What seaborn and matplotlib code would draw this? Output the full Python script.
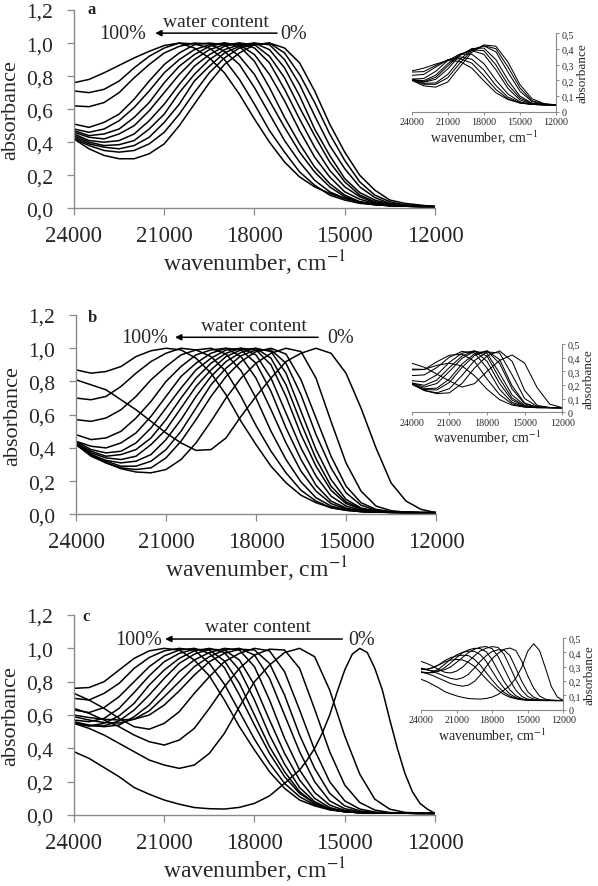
import numpy as np
import pandas as pd
import matplotlib
matplotlib.use("Agg")
import matplotlib.pyplot as plt
import seaborn as sns
from matplotlib.ticker import FuncFormatter

# Wavenumber grids (cm-1)
wn = [24000, 23500, 23000, 22500, 22000, 21500, 21000, 20500, 20000, 19500, 19000, 18500,
      18000, 17500, 17000, 16500, 16000, 15500, 15000, 14500, 14000, 13500, 13000, 12500, 12000]
wn_coarse = [24000, 23000, 22000, 21000, 20000, 19000, 18000, 17000, 16000, 15000, 14000, 13000, 12000]

# Panel a, normalised spectra (0 % -> 100 % water)
a_main = [
    [.42, .36, .32, .30, .30, .33, .39, .50, .63, .76, .87, .94, .99, 1.0, .97, .88, .71, .51, .34, .20, .11, .05, .03, .02, .01],
    [.42, .38, .35, .34, .35, .39, .46, .57, .70, .82, .91, .97, .99, 1.0, .94, .81, .64, .45, .29, .16, .08, .04, .02, .015, .01],
    [.43, .39, .37, .36, .38, .43, .52, .63, .77, .86, .94, .98, 1.0, .99, .90, .75, .56, .38, .24, .13, .065, .03, .02, .013, .01],
    [.44, .40, .38, .385, .41, .48, .57, .70, .81, .90, .96, .99, 1.0, .96, .85, .68, .48, .32, .18, .095, .05, .026, .016, .012, .01],
    [.45, .41, .40, .41, .45, .53, .63, .75, .86, .93, .98, 1.0, .99, .92, .79, .61, .44, .28, .16, .08, .04, .023, .015, .012, .01],
    [.46, .43, .42, .45, .50, .59, .70, .81, .90, .96, .99, 1.0, .97, .88, .72, .54, .37, .23, .13, .07, .035, .02, .014, .012, .01],
    [.47, .44, .45, .48, .55, .64, .76, .86, .93, .98, 1.0, .99, .93, .81, .65, .47, .31, .19, .10, .055, .03, .018, .013, .011, .01],
    [.48, .46, .48, .53, .61, .71, .82, .90, .96, .99, 1.0, .98, .89, .73, .55, .39, .25, .15, .08, .04, .025, .016, .013, .011, .01],
    [.51, .49, .52, .57, .66, .77, .87, .94, .99, 1.0, .99, .92, .81, .65, .49, .34, .22, .13, .07, .037, .022, .016, .013, .011, .01],
    [.62, .615, .64, .70, .79, .87, .94, .98, 1.0, .995, .95, .87, .73, .57, .41, .28, .17, .10, .06, .035, .022, .016, .013, .011, .01],
    [.71, .70, .72, .77, .85, .92, .97, 1.0, .995, .97, .90, .78, .63, .47, .34, .22, .14, .08, .05, .03, .022, .016, .013, .011, .01],
    [.76, .78, .82, .865, .91, .95, .985, 1.0, .97, .91, .82, .69, .54, .40, .28, .19, .13, .09, .06, .04, .025, .017, .013, .01, .01],
]
a_inset = [
    [.20, .165, .157, .19, .286, .379, .426, .418, .317, .173, .083, .052, .044],
    [.202, .175, .175, .217, .31, .39, .421, .402, .286, .152, .071, .048, .044],
    [.203, .181, .184, .238, .333, .397, .42, .382, .253, .131, .065, .048, .044],
    [.207, .188, .207, .273, .358, .403, .406, .332, .203, .099, .055, .046, .044],
    [.206, .191, .22, .292, .364, .396, .389, .299, .173, .087, .053, .045, .044],
    [.205, .198, .233, .306, .366, .39, .366, .268, .149, .075, .051, .045, .044],
    [.208, .212, .258, .327, .367, .367, .307, .202, .113, .063, .047, .044, .043],
    [.232, .238, .285, .331, .35, .335, .266, .167, .093, .059, .047, .044, .043],
    [.253, .256, .295, .331, .339, .31, .229, .142, .082, .055, .047, .044, .043],
    [.26, .278, .304, .326, .321, .278, .197, .121, .078, .057, .047, .044, .043],
]

# Panel b
b_main = [
    [.81, .78, .75, .69, .63, .56, .49, .43, .385, .39, .46, .59, .71, .82, .92, .97, 1.0, .97, .85, .64, .40, .19, .08, .03, .01],
    [.43, .36, .31, .275, .255, .25, .27, .33, .43, .56, .70, .82, .91, .97, 1.0, .98, .82, .56, .31, .14, .05, .022, .013, .01, .01],
    [.42, .35, .31, .28, .27, .28, .34, .44, .57, .71, .83, .92, .98, 1.0, .965, .81, .58, .35, .17, .07, .03, .016, .012, .01, .01],
    [.42, .36, .32, .29, .29, .32, .39, .50, .64, .78, .88, .955, .99, .99, .91, .72, .48, .28, .13, .055, .025, .014, .012, .01, .01],
    [.42, .36, .325, .31, .32, .36, .45, .57, .71, .83, .92, .975, 1.0, .98, .85, .62, .39, .21, .09, .038, .02, .013, .011, .01, .01],
    [.43, .37, .34, .33, .35, .42, .51, .64, .77, .87, .95, .99, 1.0, .94, .78, .55, .335, .17, .075, .034, .018, .012, .011, .01, .01],
    [.43, .38, .35, .36, .39, .46, .57, .70, .82, .91, .97, 1.0, .99, .90, .71, .48, .29, .145, .065, .03, .016, .012, .011, .01, .01],
    [.44, .39, .37, .38, .43, .52, .64, .76, .87, .94, .99, 1.0, .96, .82, .61, .40, .23, .11, .05, .024, .014, .012, .011, .01, .01],
    [.44, .41, .40, .43, .49, .59, .71, .83, .91, .97, 1.0, .99, .91, .74, .52, .33, .175, .08, .038, .02, .014, .012, .011, .01, .01],
    [.48, .45, .46, .50, .58, .68, .80, .89, .96, .99, 1.0, .95, .82, .63, .43, .26, .14, .065, .033, .018, .013, .012, .011, .01, .01],
    [.57, .56, .58, .63, .71, .81, .89, .96, .99, 1.0, .965, .865, .70, .50, .33, .195, .10, .05, .028, .017, .013, .012, .011, .01, .01],
    [.70, .69, .71, .77, .85, .92, .97, 1.0, .99, .95, .86, .71, .535, .38, .25, .145, .08, .04, .025, .016, .013, .012, .011, .01, .01],
    [.87, .85, .86, .89, .95, .985, 1.0, .99, .94, .85, .72, .56, .42, .29, .19, .115, .07, .04, .024, .017, .013, .012, .011, .01, .01],
]
b_inset = [
    [.36, .33, .28, .23, .185, .21, .30, .38, .42, .36, .18, .06, .034],
    [.211, .16, .137, .143, .211, .324, .412, .45, .374, .16, .051, .035, .034],
    [.206, .16, .143, .173, .269, .379, .442, .435, .274, .101, .043, .035, .034],
    [.206, .167, .164, .219, .328, .416, .45, .387, .194, .068, .038, .035, .034],
    [.211, .173, .177, .244, .353, .429, .45, .358, .171, .062, .038, .035, .034],
    [.215, .185, .211, .299, .395, .446, .433, .286, .127, .051, .036, .035, .034],
    [.215, .198, .236, .328, .412, .45, .412, .248, .104, .046, .036, .035, .034],
    [.232, .223, .274, .366, .433, .45, .374, .211, .089, .044, .035, .035, .034],
    [.269, .274, .328, .404, .446, .435, .324, .169, .072, .042, .035, .035, .034],
    [.31, .314, .37, .418, .426, .374, .244, .13, .062, .04, .035, .034, .034],
    [.317, .314, .344, .36, .34, .268, .169, .093, .053, .038, .034, .034, .033],
]

# Panel c: the 0 % spectrum is narrow, so it is read on a finer grid
c0_wn = [24000, 23500, 23000, 22500, 22000, 21500, 21000, 20500, 20000, 19500, 19000, 18500,
         18000, 17500, 17000, 16500, 16250, 16000, 15750, 15500, 15250, 15000, 14750, 14500,
         14250, 14000, 13750, 13500, 13250, 13000, 12750, 12500, 12250, 12000]
c0_main = [.38, .34, .285, .23, .165, .125, .09, .065, .045, .038, .036, .046,
           .07, .115, .19, .27, .33, .40, .49, .60, .74, .87, .965, 1.0,
           .975, .88, .75, .57, .40, .25, .14, .07, .035, .01]
c_main = [
    [.55, .52, .48, .43, .38, .33, .30, .28, .30, .37, .49, .65, .80, .90, .975, 1.0, .95, .75, .475, .245, .095, .035, .016, .012, .01],
    [.64, .61, .57, .53, .48, .44, .42, .45, .52, .64, .77, .88, .96, .995, .99, .88, .635, .38, .18, .075, .03, .015, .012, .011, .01],
    [.73, .69, .64, .58, .53, .515, .55, .62, .73, .83, .92, .97, 1.0, .985, .86, .63, .39, .20, .085, .036, .018, .013, .012, .011, .01],
    [.60, .585, .575, .57, .575, .60, .66, .745, .84, .92, .97, .995, .99, .91, .72, .48, .28, .13, .055, .025, .014, .012, .011, .01, .01],
    [.59, .57, .555, .552, .575, .625, .71, .80, .89, .95, .99, 1.0, .96, .82, .60, .38, .20, .085, .038, .02, .013, .012, .011, .01, .01],
    [.56, .54, .53, .54, .59, .66, .76, .86, .93, .975, 1.0, .99, .89, .69, .46, .27, .135, .06, .028, .016, .013, .012, .011, .01, .01],
    [.55, .535, .535, .565, .63, .72, .82, .91, .965, .995, .99, .93, .78, .57, .37, .21, .10, .045, .022, .014, .012, .012, .011, .01, .01],
    [.55, .535, .55, .595, .67, .78, .87, .94, .985, 1.0, .975, .87, .69, .48, .305, .165, .08, .038, .021, .014, .012, .012, .011, .01, .01],
    [.57, .56, .58, .64, .735, .835, .92, .97, .995, .99, .925, .79, .60, .41, .26, .14, .07, .035, .02, .014, .012, .012, .011, .01, .01],
    [.63, .615, .645, .71, .80, .89, .955, .99, 1.0, .97, .885, .72, .54, .37, .23, .13, .07, .035, .02, .014, .012, .012, .011, .01, .01],
    [.70, .69, .73, .79, .88, .945, .985, 1.0, .99, .91, .785, .62, .455, .31, .19, .11, .06, .033, .02, .014, .012, .012, .011, .01, .01],
    [.76, .765, .80, .87, .94, .985, 1.0, .99, .93, .835, .69, .53, .39, .26, .16, .09, .055, .031, .02, .015, .013, .012, .011, .01, .01],
]
c_inset = [
    [.212, .196, .174, .152, .126, .11, .096, .086, .078, .075, .074, .078, .088, .106, .136, .168, .22, .296, .408, .46, .412, .288, .16, .088, .064],
    [.264, .252, .238, .219, .201, .182, .171, .164, .171, .197, .241, .301, .356, .393, .421, .43, .412, .338, .236, .151, .095, .073, .066, .064, .064],
    [.29, .28, .265, .251, .233, .218, .211, .222, .247, .29, .337, .377, .406, .418, .416, .377, .289, .197, .125, .087, .071, .065, .064, .064, .064],
    [.337, .322, .303, .28, .261, .256, .269, .296, .337, .375, .41, .429, .44, .434, .387, .299, .208, .136, .092, .074, .067, .065, .065, .064, .064],
    [.284, .277, .271, .27, .279, .298, .33, .364, .398, .421, .436, .44, .425, .372, .288, .204, .136, .092, .074, .068, .065, .065, .064, .064, .064],
    [.264, .258, .258, .269, .293, .326, .363, .397, .417, .428, .426, .404, .349, .271, .197, .138, .097, .077, .068, .065, .064, .064, .064, .064, .064],
    [.26, .256, .263, .284, .317, .352, .382, .40, .408, .407, .384, .337, .27, .204, .151, .109, .085, .072, .067, .065, .064, .064, .064, .064, .064],
    [.284, .281, .294, .313, .342, .362, .375, .38, .377, .351, .311, .258, .206, .159, .121, .095, .079, .071, .066, .064, .064, .064, .064, .063, .063],
    [.28, .282, .292, .312, .333, .346, .35, .347, .33, .302, .26, .214, .173, .135, .106, .086, .076, .069, .066, .064, .064, .063, .063, .063, .063],
]

x_ticks = [24000, 21000, 18000, 15000, 12000]
GREY = "#8a8a8a"

sns.set_style("ticks")
plt.rcParams["font.family"] = ["Liberation Serif", "DejaVu Serif"]
plt.rcParams["mathtext.fontset"] = "stix"


def long_table(pairs):
    # pairs: list of (wavenumbers, absorbances), one per spectrum
    frames = [pd.DataFrame({"wavenumber": x, "absorbance": y, "curve": i})
              for i, (x, y) in enumerate(pairs)]
    return pd.concat(frames, ignore_index=True)


def comma(v, pos):
    return f"{v:.1f}".replace(".", ",")


def comma_inset(v, pos):
    return "0" if abs(v) < 1e-9 else f"{v:.1f}".replace(".", ",")


fig = plt.figure(figsize=(5.98, 8.87), dpi=100)

panels = [
    dict(letter="a", main=[(wn, c) for c in a_main], inset=[(wn_coarse, c) for c in a_inset],
         rect=[0.1237, 0.764, 0.6037, 0.2236], irect=[0.6885, 0.8729, 0.2413, 0.0884],
         arrow=(17250, 21300, 1.06), t100=21600, t0=17150, wc=(19270, 1.13), lab=(23550, 1.205)),
    dict(letter="b", main=[(wn, c) for c in b_main], inset=[(wn_coarse, c) for c in b_inset],
         rect=[0.1271, 0.419, 0.602, 0.2247], irect=[0.6885, 0.534, 0.2518, 0.077],
         arrow=(15930, 20700, 1.066), t100=20930, t0=15610, wc=(18070, 1.14), lab=(23600, 1.19)),
    dict(letter="c", main=[(c0_wn, c0_main)] + [(wn, c) for c in c_main],
         inset=[(wn, c) for c in c_inset],
         rect=[0.1237, 0.080, 0.6037, 0.2255], irect=[0.704, 0.1988, 0.238, 0.0808],
         arrow=(15080, 20970, 1.056), t100=21075, t0=14890, wc=(17880, 1.134), lab=(23720, 1.194)),
]

for p in panels:
    # main plot
    ax = fig.add_axes(p["rect"])
    sns.lineplot(data=long_table(p["main"]), x="wavenumber", y="absorbance",
                 units="curve", estimator=None, color="black", lw=1.1, ax=ax, legend=False)
    ax.set_xlim(24000, 12000)
    ax.set_ylim(0, 1.2)
    ax.set_xticks(x_ticks)
    ax.set_xticklabels([str(t) for t in x_ticks])
    ax.set_yticks(np.arange(0, 1.21, 0.2))
    ax.yaxis.set_major_formatter(FuncFormatter(comma))
    sns.despine(ax=ax)
    for s in ["left", "bottom"]:
        ax.spines[s].set_color(GREY)
        ax.spines[s].set_linewidth(1.0)
    ax.tick_params(axis="x", direction="out", length=5, width=0.9, color=GREY, labelsize=16.5, pad=7)
    ax.tick_params(axis="y", direction="out", length=5, width=0.9, color=GREY, labelsize=15.5, pad=10)
    ax.set_xlabel("wavenumber, cm$^{-1}$", fontsize=17, labelpad=1)
    ax.set_ylabel("absorbance", fontsize=16, labelpad=4)

    ax.text(p["lab"][0], p["lab"][1], p["letter"], fontsize=12, fontweight="bold",
            ha="left", va="center")
    x0, x1, y = p["arrow"]
    ax.annotate("", xy=(x1, y), xytext=(x0, y),
                arrowprops=dict(arrowstyle="-|>", color="black", lw=1.1, mutation_scale=9,
                                shrinkA=0, shrinkB=0))
    ax.text(p["t100"], y, "100%", fontsize=14.5, ha="right", va="center")
    ax.text(p["t0"], y, "0%", fontsize=14.5, ha="left", va="center")
    ax.text(p["wc"][0], p["wc"][1], "water content", fontsize=14, ha="center", va="center")

    # inset with absolute absorbance
    ai = fig.add_axes(p["irect"])
    sns.lineplot(data=long_table(p["inset"]), x="wavenumber", y="absorbance",
                 units="curve", estimator=None, color="black", lw=0.75, ax=ai, legend=False)
    ai.set_xlim(24000, 12000)
    ai.set_ylim(0, 0.5)
    ai.set_xticks(x_ticks)
    ai.set_xticklabels([str(t) for t in x_ticks])
    ai.set_yticks(np.arange(0, 0.51, 0.1))
    ai.yaxis.set_major_formatter(FuncFormatter(comma_inset))
    sns.despine(ax=ai, left=True, right=False)
    ai.yaxis.tick_right()
    ai.yaxis.set_label_position("right")
    for s in ["right", "bottom"]:
        ai.spines[s].set_color(GREY)
        ai.spines[s].set_linewidth(0.8)
    ai.tick_params(axis="both", direction="out", length=2.5, width=0.7, color=GREY,
                   labelsize=7.2, pad=1.5)
    ai.set_xlabel("wavenumber, cm$^{-1}$", fontsize=10, labelpad=1)
    ai.set_ylabel("absorbance", fontsize=9.5, labelpad=1.5)

fig.savefig("out.png", dpi=100)
